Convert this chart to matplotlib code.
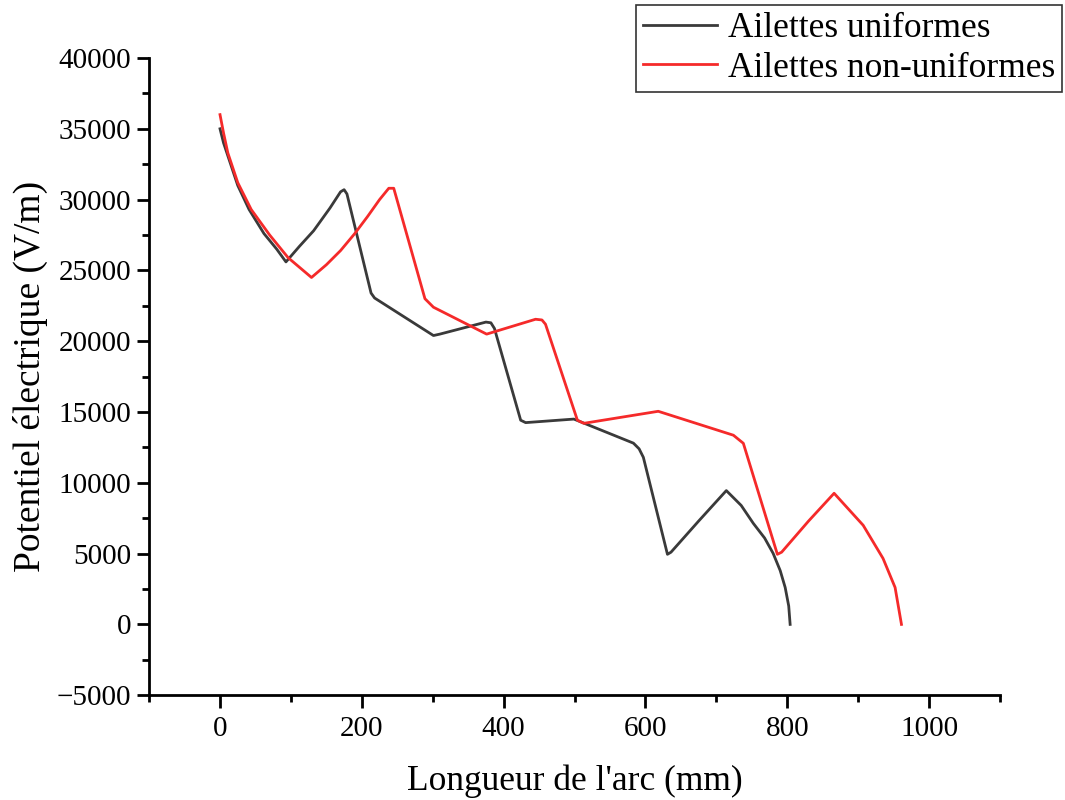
import numpy as np
import matplotlib
matplotlib.use('Agg')
import matplotlib.pyplot as plt
from matplotlib.ticker import MultipleLocator

plt.rcParams['font.family'] = ['Liberation Serif', 'DejaVu Serif']

# Ailettes uniformes
x_uni = [0, 5, 11, 25, 41, 62, 80, 93, 112, 132, 155, 170, 175, 179, 213, 218,
         301, 310, 375, 382, 387, 424, 431, 499, 583, 591, 597, 631, 636, 675,
         714, 735, 752, 768, 780, 790, 797, 802, 804]
y_uni = [35000, 34000, 33100, 31000, 29300, 27600, 26500, 25600, 26700, 27800,
         29400, 30550, 30700, 30400, 23400, 23050, 20400, 20500, 21350, 21300,
         20900, 14420, 14250, 14500, 12800, 12400, 11800, 4950, 5100, 7300,
         9450, 8400, 7140, 6100, 5020, 3800, 2610, 1300, 0]

# Ailettes non-uniformes
x_non = [0, 5, 11, 25, 44, 70, 96, 129, 150, 170, 190, 208, 225, 238, 245,
         289, 301, 376, 445, 454, 459, 504, 513, 618, 724, 738, 786, 792,
         830, 866, 907, 935, 952, 961]
y_non = [36000, 34700, 33300, 31200, 29300, 27500, 25900, 24500, 25400, 26400,
         27600, 28800, 30000, 30800, 30800, 23000, 22400, 20500, 21550, 21500,
         21200, 14420, 14200, 15050, 13360, 12790, 4950, 5100, 7300, 9260,
         7000, 4660, 2610, 0]

fig = plt.figure(figsize=(10.65, 8), dpi=100)
ax = fig.add_axes([0.140, 0.131, 0.799, 0.7965])

ax.plot(x_uni, y_uni, color='#3a3a3a', lw=2.0, label='Ailettes uniformes')
ax.plot(x_non, y_non, color='#f52a2a', lw=2.0, label='Ailettes non-uniformes')

ax.set_xlim(-100, 1100)
ax.set_ylim(-5000, 40000)
ax.xaxis.set_major_locator(MultipleLocator(200))
ax.xaxis.set_minor_locator(MultipleLocator(100))
ax.yaxis.set_major_locator(MultipleLocator(5000))
ax.yaxis.set_minor_locator(MultipleLocator(2500))
ax.set_xticks([0, 200, 400, 600, 800, 1000])

for s in ['top', 'right']:
    ax.spines[s].set_visible(False)
for s in ['left', 'bottom']:
    ax.spines[s].set_linewidth(2)

ax.tick_params(which='major', direction='out', length=9, width=2, labelsize=21, pad=4)
ax.tick_params(axis='x', which='major', pad=6)
ax.tick_params(which='minor', direction='out', length=5, width=2)
ax.yaxis.set_major_formatter(plt.FuncFormatter(lambda v, p: f'{int(v)}'.replace('-', '\u2212')))

ax.set_xlabel("Longueur de l'arc (mm)", fontsize=25.5, labelpad=16)
ax.set_ylabel('Potentiel électrique (V/m)', fontsize=27, labelpad=6)

leg = ax.legend(loc='upper right', bbox_to_anchor=(1.0728, 1.083), fontsize=25.5,
                frameon=True, fancybox=False, edgecolor='black',
                handlelength=2.1, borderpad=0.2, labelspacing=0.18,
                handletextpad=0.3, borderaxespad=0)
leg.get_frame().set_linewidth(1.2)

fig.savefig('out.png', dpi=100)
